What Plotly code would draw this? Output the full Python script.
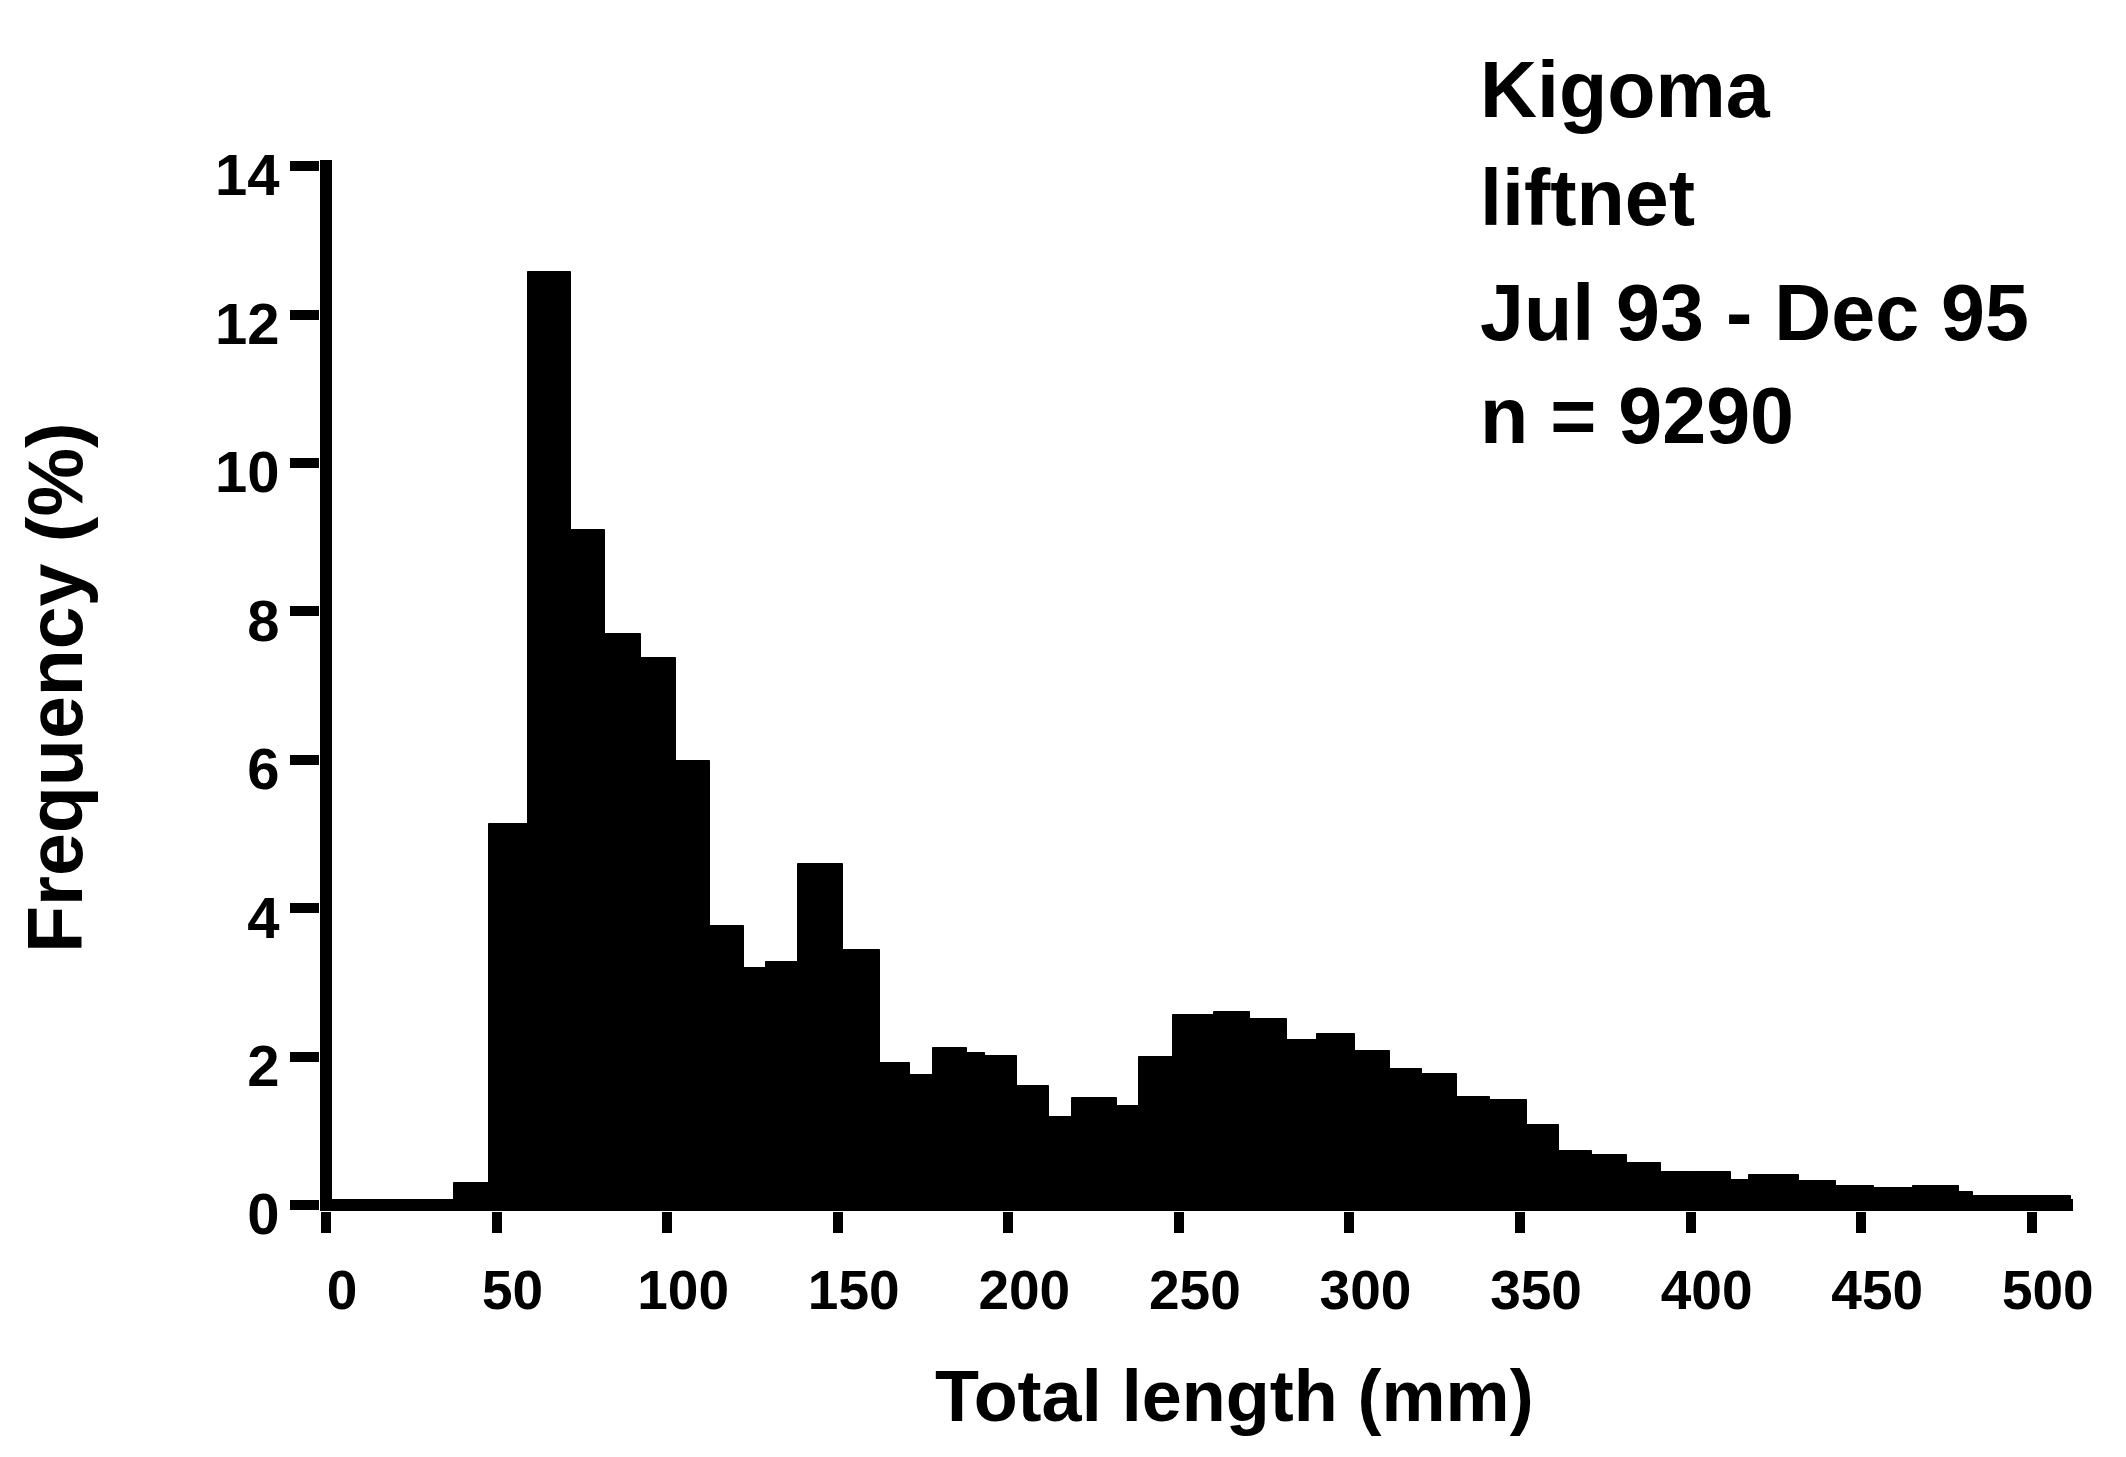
import numpy as np
import plotly.graph_objects as go

# ---- data (length classes in mm, frequency in %) ----
bin_edges_mm = [10, 20, 30, 37.6, 47.9, 59.3, 71.8, 81.8, 92.4, 102.7, 112.5, 122.6,
                129.1, 138.4, 151.6, 162.4, 171.1, 178.0, 188.0, 193.2, 202.5, 211.8,
                218.6, 231.8, 238.2, 248.4, 260.2, 270.9, 281.7, 290.5, 301.7, 312.0,
                321.3, 331.6, 341.3, 352.1, 361.4, 371.2, 381.4, 391.2, 401.5, 411.8,
                417.2, 431.8, 442.6, 453.8, 465.1, 478.7, 482.7, 511.5]
frequency_pct = [0.05, 0.06, 0.06, 0.30, 5.13, 12.57, 9.09, 7.69, 7.37, 5.99, 3.76, 3.19,
                 3.27, 4.59, 3.44, 1.92, 1.75, 2.12, 2.05, 2.01, 1.61, 1.19,
                 1.44, 1.33, 1.99, 2.56, 2.60, 2.50, 2.23, 2.30, 2.07, 1.83,
                 1.76, 1.46, 1.41, 1.08, 0.73, 0.68, 0.57, 0.44, 0.44, 0.34,
                 0.40, 0.33, 0.25, 0.23, 0.25, 0.18, 0.12]
x_ticks = [0, 50, 100, 150, 200, 250, 300, 350, 400, 450, 500]
y_ticks = [0, 2, 4, 6, 8, 10, 12, 14]
info_lines = ["Kigoma", "liftnet", "Jul 93 - Dec 95", "n = 9290"]
x_title = "Total length (mm)"
y_title = "Frequency (%)"

edges = np.array(bin_edges_mm, dtype=float)
centers = (edges[:-1] + edges[1:]) / 2
widths = np.diff(edges)

FONT = "Liberation Sans, Arial, Helvetica, sans-serif"

W, H = 2126, 1457
ML, MR, MT, MB = 320, 53, 160, 246
PW, PH = W - ML - MR, H - MT - MB


def px_x(px):
    return (px - ML) / PW


def px_y(py):
    return (H - MB - py) / PH


fig = go.Figure()
fig.add_trace(go.Bar(
    x=centers, y=frequency_pct, width=widths,
    marker=dict(color="black", line=dict(color="black", width=1)),
    hoverinfo="x+y",
))

fig.update_layout(
    width=W, height=H,
    margin=dict(l=ML, r=MR, t=MT, b=MB, pad=0),
    plot_bgcolor="white", paper_bgcolor="white",
    showlegend=False, bargap=0,
)

fig.update_xaxes(
    range=[-1.759, 512.08], tickmode="array", tickvals=x_ticks,
    ticktext=[str(v) for v in x_ticks],
    ticks="outside", ticklen=21, tickwidth=10, tickcolor="black",
    showline=False, showgrid=False,
    zeroline=True, zerolinecolor="black", zerolinewidth=12,
    tickfont=dict(family=FONT, size=55, color="black", weight="bold"),
    ticklabelshift=16, ticklabelstandoff=10,
)
fig.update_yaxes(
    range=[-0.0809, 14.083], tickmode="array", tickvals=y_ticks,
    ticks="outside", ticklen=29, tickwidth=10, tickcolor="black",
    showline=False, showgrid=False,
    zeroline=True, zerolinecolor="black", zerolinewidth=12,
    tickfont=dict(family=FONT, size=58, color="black", weight="bold"),
    ticklabelshift=9, ticklabelstandoff=-1,
)

# axis titles
fig.add_annotation(text=x_title, xref="paper", yref="paper",
                   x=px_x(1234), y=px_y(1396), xanchor="center", yanchor="middle",
                   showarrow=False,
                   font=dict(family=FONT, size=72, color="black", weight="bold"))
fig.add_annotation(text=y_title, xref="paper", yref="paper", textangle=-90,
                   x=px_x(55), y=px_y(688), xanchor="center", yanchor="middle",
                   showarrow=False,
                   font=dict(family=FONT, size=77, color="black", weight="bold"))

# info block
line_centers_px = [89, 197, 312, 415]
for txt, cy in zip(info_lines, line_centers_px):
    fig.add_annotation(text=txt, xref="paper", yref="paper",
                       x=px_x(1478), y=px_y(cy), xanchor="left", yanchor="middle",
                       showarrow=False,
                       font=dict(family=FONT, size=79, color="black", weight="bold"))

fig.write_html("out.html", config={"displayModeBar": False},
               post_script="document.body.style.margin='0px';")
